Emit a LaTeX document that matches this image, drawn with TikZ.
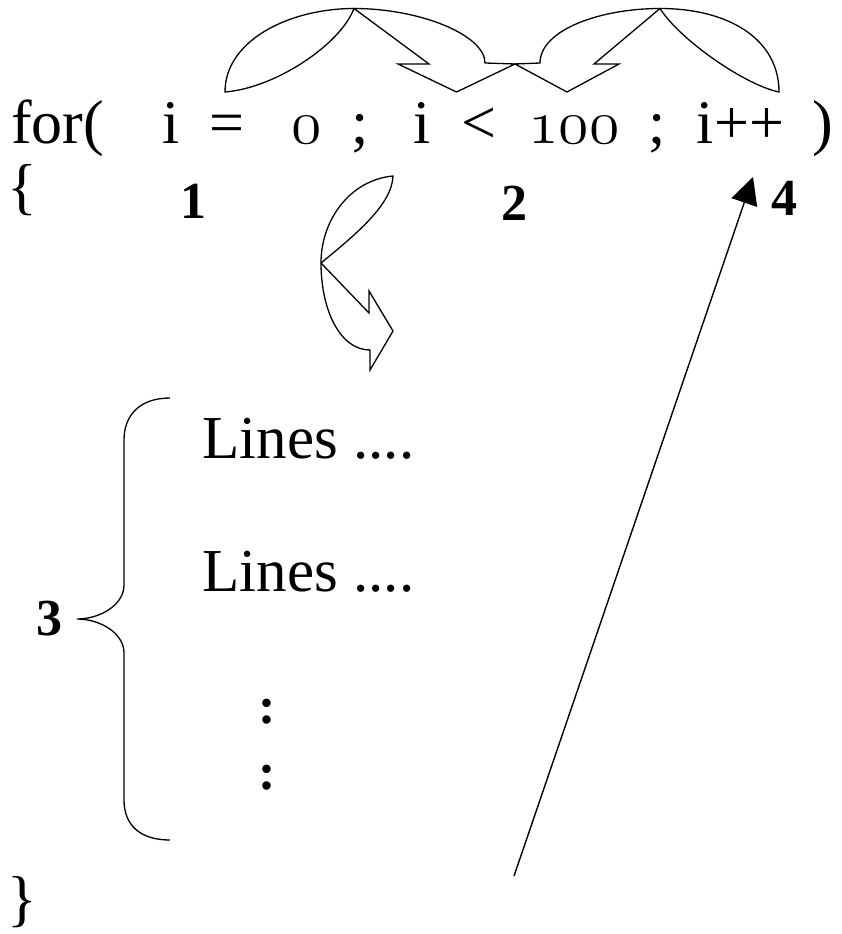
\documentclass[tikz,border=0pt]{standalone}
\usepackage{fontspec}
\usepackage{fix-cm}
\setmainfont{Liberation Serif}
\usetikzlibrary{arrows.meta}

\newcommand\onum[1]{{\usefont{OML}{cmm}{m}{it}#1}}
\newcommand\codefont{\fontsize{62}{70}\selectfont}
\newcommand\linefont{\fontsize{61}{68}\selectfont}
\newcommand\stepfont{\fontsize{52}{60}\selectfont\bfseries}

\tikzset{
  txt/.style={inner sep=0pt, anchor=base},
  bendarrow/.style={draw, line width=1.3pt, line join=miter}
}

\begin{document}
\begin{tikzpicture}[x=1pt, y=-1pt, line width=1.3pt]
\useasboundingbox (0,0) rectangle (841,934);

\node [txt, font=\codefont] (for) at (57.5,143) {for(};
\node [txt, font=\codefont] (iA) at (171.5,143) {i};
\node [txt, font=\codefont] (eq) at (227,143) {=};
\node [txt, font=\codefont] (zero) at (307,143) {\onum{0}};
\node [txt, font=\codefont] (semiA) at (360,143) {;};
\node [txt, font=\codefont] (iB) at (422.5,143) {i};
\node [txt, font=\codefont] (lt) at (478.5,143) {<};
\node [txt, font=\codefont] (hundred) at (574,143) {\onum{100}};
\node [txt, font=\codefont] (semiB) at (657.5,143) {;};
\node [txt, font=\codefont] (incr) at (740.5,143) {i++};
\node [txt, font=\codefont] (close) at (822.5,143) {)};

\node [txt, font=\codefont] (lbrace) at (22.5,207) {\{};
\node [txt, font=\codefont] (rbrace) at (22,919) {\}};

\node [txt, font=\stepfont] (one) at (193,218) {1};
\node [txt, font=\stepfont] (two) at (514.5,220) {2};
\node [txt, font=\stepfont] (four) at (784.5,215) {4};
\node [txt, font=\stepfont] (three) at (49.5,635) {3};

\node [txt, anchor=base west, font=\linefont] (linesA) at (202,458) {Lines ....};
\node [txt, anchor=base west, font=\linefont] (linesB) at (202,591) {Lines ....};
\node [txt, font=\stepfont] (dotsA) at (267,723) {:};
\node [txt, font=\stepfont] (dotsB) at (267,789) {:};

% init -> test
\draw [bendarrow]
(225,92) .. controls (225,40) and (290,8.5) .. (354,8.5)
.. controls (420,8.5) and (485,35) .. (485,63)
-- (515,64) -- (456.5,92) -- (398,64) -- (429,64) -- (354,8.5)
.. controls (340,45) and (275,88) .. (225,92) -- cycle;

% test -> increment
\draw [bendarrow]
(515,64) -- (540,63) .. controls (540,30) and (600,8.5) .. (660,8.5)
.. controls (730,8.5) and (779,40) .. (779,92)
.. controls (745,85) and (680,40) .. (660,8.5)
-- (594,64) -- (619,64) -- (567,92) -- cycle;

% test -> body
\draw [bendarrow]
(393,176) .. controls (350,180) and (321,220) .. (321,263)
.. controls (321,310) and (340,350) .. (370,350)
-- (370,370) -- (393,331) -- (369,291) -- (369,313) -- (321,263)
.. controls (355,235) and (392,205) .. (393,176) -- cycle;

% body brace
\draw 
(170,398) .. controls (140,398) and (124,415) .. (124,440) -- (124,585)
.. controls (124,605) and (100,619) .. (77,619)
.. controls (100,619) and (124,633) .. (124,653) -- (124,800)
.. controls (124,825) and (140,840) .. (170,840);

\coordinate (tail) at (514,876);
\coordinate (head) at (753,177);
\draw [ -{Triangle[length=27pt,width=27pt]} , line width=1.4pt] 
(tail)--(head);
\end{tikzpicture}
\end{document}
